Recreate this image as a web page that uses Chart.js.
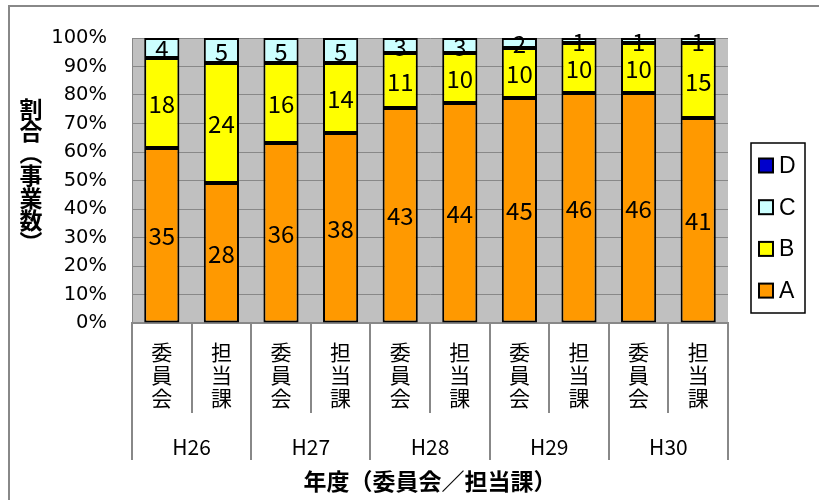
<!DOCTYPE html>
<html>
<head>
<meta charset="utf-8">
<script src="https://cdn.jsdelivr.net/npm/chart.js@4.4.1/dist/chart.umd.min.js"></script>
<style>
  body { margin: 0; background: #fff; }
  #wrap { position: relative; width: 819px; height: 500px; }
</style>
</head>
<body>
<div id="wrap"><canvas id="chart" width="819" height="500"></canvas></div>
<script>
// counts per bar (委員会 / 担当課 for each year)
const years = ["H26", "H27", "H28", "H29", "H30"];
const sides = [["委", "員", "会"], ["担", "当", "課"]];
const countA = [35, 28, 36, 38, 43, 44, 45, 46, 46, 41];
const countB = [18, 24, 16, 14, 11, 10, 10, 10, 10, 15];
const countC = [4, 5, 5, 5, 3, 3, 2, 1, 1, 1];
const countD = [0, 0, 0, 0, 0, 0, 0, 0, 0, 0];
const yTitle = "割合（事業数）";
const xTitle = "年度（委員会／担当課）";

const JP = '"Noto Sans CJK JP", "Noto Sans", sans-serif';
const labels = years.flatMap(() => sides);
const totals = countA.map((v, i) => v + countB[i] + countC[i] + countD[i]);
const pct = arr => arr.map((v, i) => v / totals[i] * 100);

function ds(label, counts, color) {
    return {
        label: label,
        data: pct(counts),
        counts: counts,
        backgroundColor: color,
        borderColor: "#000",
        borderWidth: 2,
        borderSkipped: false,
        barPercentage: 0.59,
        categoryPercentage: 1,
    };
}

const plotBg = {
    id: "plotBg",
    beforeDraw(chart) {
        const a = chart.chartArea, ctx = chart.ctx;
        ctx.save();
        ctx.fillStyle = "#c0c0c0";
        ctx.fillRect(a.left, a.top, a.right - a.left, a.bottom - a.top);
        ctx.strokeStyle = "#888";
        ctx.lineWidth = 2;
        ctx.strokeRect(9, 6, 900, 900);
        ctx.restore();
    },
};

// numbers in the segments
const segLabels = {
    id: "segLabels",
    afterDatasetsDraw(chart) {
        const ctx = chart.ctx;
        ctx.save();
        ctx.font = "24px " + JP;
        ctx.fillStyle = "#000";
        ctx.textAlign = "center";
        ctx.textBaseline = "middle";
        chart.data.datasets.forEach((d, i) => {
            chart.getDatasetMeta(i).data.forEach((bar, j) => {
                if (!d.counts[j]) return;
                ctx.fillText(d.counts[j], bar.x, (bar.y + bar.base) / 2 + 1);
            });
        });
        ctx.restore();
    },
};

// vertical y title + boxed legend on the right
const extras = {
    id: "extras",
    afterDraw(chart) {
        const ctx = chart.ctx;
        ctx.save();
        ctx.fillStyle = "#000";
        ctx.textAlign = "center";
        ctx.textBaseline = "middle";
        ctx.font = "bold 23px " + JP;
        [...yTitle].forEach((ch, k) => {
            const y = 109 + k * 22.2;
            if (ch === "（" || ch === "）") {
                ctx.save();
                ctx.translate(31, y);
                ctx.rotate(Math.PI / 2);
                ctx.fillText(ch, 0, 0);
                ctx.restore();
            } else {
                ctx.fillText(ch, 31, y);
            }
        });

        ctx.strokeStyle = "#000";
        ctx.lineWidth = 1.5;
        ctx.strokeRect(751, 143, 54, 170);
        ctx.font = "23px 'Liberation Sans', Arial, sans-serif";
        ctx.textAlign = "left";
        const items = chart.data.datasets.slice().reverse();
        items.forEach((d, k) => {
            const cy = 165.5 + k * 41.7;
            ctx.fillStyle = d.backgroundColor;
            ctx.fillRect(759, cy - 7, 14, 14);
            ctx.lineWidth = 2;
            ctx.strokeRect(759, cy - 7, 14, 14);
            ctx.fillStyle = "#000";
            ctx.fillText(d.label, 779, cy + 1);
        });
        ctx.restore();
    },
};

new Chart(document.getElementById("chart"), {
    type: "bar",
    data: {
        labels: labels,
        datasets: [
            ds("A", countA, "#ff9900"),
            ds("B", countB, "#ffff00"),
            ds("C", countC, "#ccffff"),
            ds("D", countD, "#0000cc"),
        ],
    },
    options: {
        responsive: false,
        animation: false,
        layout: { padding: { left: 0, right: 91, top: 38, bottom: 0 } },
        plugins: {
            legend: { display: false },
            tooltip: { enabled: false },
        },
        scales: {
            x: {
                stacked: true,
                weight: 0,
                grid: { offset: true, drawOnChartArea: false, tickLength: 90, color: "#888", lineWidth: 2 },
                border: { display: true, color: "#888", width: 2 },
                ticks: {
                    autoSkip: false, maxRotation: 0, color: "#000", padding: -72.5,
                    font: { family: JP, size: 21, lineHeight: 1.1 },
                },
                afterFit(s) { s.height = 90; },
            },
            x2: {
                type: "category",
                labels: years,
                position: "bottom",
                weight: 1,
                offset: true,
                grid: { offset: true, drawOnChartArea: false, tickLength: 47, color: "#888", lineWidth: 2 },
                border: { display: false },
                ticks: { color: "#000", padding: -26, font: { family: JP, size: 21 } },
                title: {
                    display: true, text: xTitle, color: "#000",
                    font: { family: JP, size: 23, weight: "bold" },
                    padding: { top: 0, bottom: 5 },
                },
                afterFit(s) { s.height = 87; },
            },
            y: {
                stacked: true,
                min: 0,
                max: 100,
                grid: { color: "#888", lineWidth: 1, drawTicks: false },
                border: { display: true, color: "#888", width: 1 },
                ticks: {
                    stepSize: 10, padding: 25, color: "#000",
                    font: { family: "'DejaVu Sans', sans-serif", size: 19.5 },
                    callback: v => v + "%",
                },
                afterFit(s) { s.width = 132; },
            },
        },
    },
    plugins: [plotBg, segLabels, extras],
});
</script>
</body>
</html>
